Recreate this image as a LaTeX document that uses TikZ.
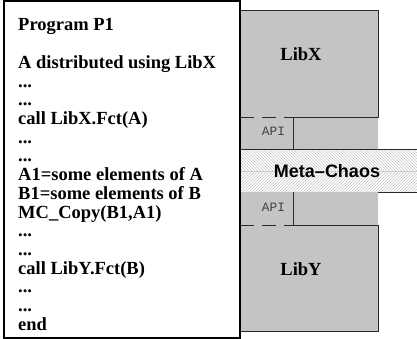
\documentclass[tikz,border=0pt]{standalone}
\usepackage{fontspec}
\setmainfont{Liberation Serif}
\newfontfamily\bandfont[Ligatures=TeX]{Liberation Sans}
\newfontfamily\apifont{Liberation Mono}
\usepackage{tikz}
\usetikzlibrary{patterns}
\definecolor{libgray}{HTML}{C4C4C4}
\definecolor{edgegray}{HTML}{2A2A2A}
% elided code lines (a bare "..." would be read as a range by \foreach)
\newcommand{\skipdots}{...}

\begin{document}
\begin{tikzpicture}[x=1pt,y=-1pt,
	code line/.style={anchor=base west, inner sep=0pt, font=\bfseries\fontsize{18.5}{18.7}\selectfont},
	lib label/.style={anchor=base, inner sep=0pt, font=\bfseries\fontsize{18.5}{18.7}\selectfont},
	api label/.style={anchor=base, inner sep=0pt, text=black!75, font=\apifont\fontsize{12.8}{13}\selectfont},
	lib edge/.style={draw=edgegray, line width=1pt},
	api edge/.style={draw=edgegray, line width=1pt, dash pattern=on 14pt off 8pt}]
	\useasboundingbox (0,0) rectangle (417,339);
	
	% LibX block with its API
	\fill[libgray] (240,11) rectangle (378,150);
	\draw[lib edge] (240,11) -- (378,11) -- (378,118) -- (293,118);
	\draw[api edge] (240,118) -- (293,118);
	\draw[lib edge] (293,118) -- (293,150);
	\node[lib label] (libx) at (301,61) {LibX};
	\node[api label] (apix) at (273.5,136) {API};
	
	% Meta-Chaos band
	\fill[white] (240,150) rectangle (417,192);
	\fill[pattern=north west lines, pattern color=black!22] (240,150) rectangle (417,171);
	\fill[pattern=north east lines, pattern color=black!22] (240,171) rectangle (417,192);
	\draw[black!20, line width=0.6pt] (240,171.5) -- (417,171.5);
	\draw[lib edge] (240,150) -- (417,150);
	\draw[lib edge] (240,192) -- (417,192);
	\node[anchor=base, inner sep=0pt, font=\bandfont\bfseries\fontsize{18}{18}\selectfont] (mc) at (327,177) {Meta--Chaos};
	
	% LibY block with its API
	\fill[libgray] (240,192) rectangle (378,331.5);
	\draw[lib edge] (293,192) -- (293,225) -- (378,225) -- (378,331.5) -- (240,331.5);
	\draw[api edge] (240,225) -- (293,225);
	\node[api label] (apiy) at (273.5,211) {API};
	\node[lib label] (liby) at (301,275) {LibY};
	
	% Program P1
	\draw[black, line width=1.3pt, fill=white] (4,1) rectangle (240,338);
	\node[code line] (title) at (18,31) {Program P1};
	\foreach \txt [count=\i from 3] in {{A distributed using LibX},{\skipdots},{\skipdots},{call LibX.Fct(A)},{\skipdots},{\skipdots},
		{A1=some elements of A},{B1=some elements of B},{MC\_Copy(B1,A1)},{\skipdots},{\skipdots},
		{call LibY.Fct(B)},{\skipdots},{\skipdots},{end}}
		\node[code line] (line\i) at (18,{31+(\i-1)*18.7}) {\txt};
	
\end{tikzpicture}
\end{document}
